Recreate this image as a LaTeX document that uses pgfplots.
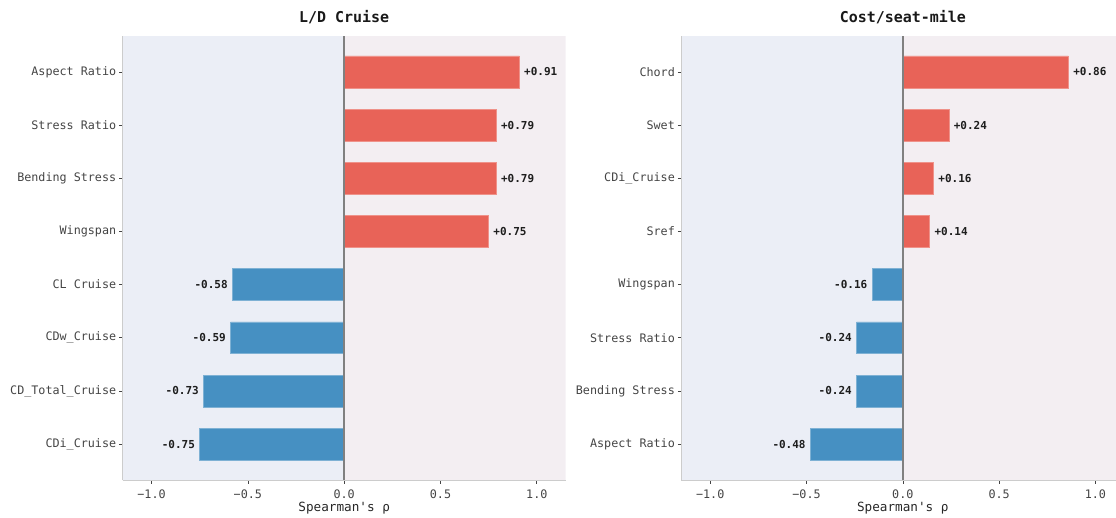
\documentclass[border=0pt]{standalone}
\usepackage{fontspec}
\setmainfont{DejaVu Sans Mono}
\usepackage{pgfplots}
\pgfplotsset{compat=1.18}
\definecolor{posred}{RGB}{232,99,88}
\definecolor{negblue}{RGB}{70,144,194}
\definecolor{bgneg}{RGB}{235,238,246}
\definecolor{bgpos}{RGB}{243,238,242}
\definecolor{spine}{RGB}{204,204,204}
\definecolor{ticklab}{RGB}{68,68,68}
\definecolor{zeroline}{RGB}{128,128,128}
\definecolor{valtext}{RGB}{30,30,30}

\pgfplotsset{
 corrstyle/.style={
  scale only axis, width=332.25pt, height=333.45pt,
  anchor=south west,
  xmin=-1.15, xmax=1.15, ymin=-0.68, ymax=7.68,
  axis x line*=bottom, axis y line*=left,
  axis line style={spine, line width=0.7pt, -},
  axis on top,
  xtick={-1,-0.5,0,0.5,1},
  xticklabels={−1.0,−0.5,0.0,0.5,1.0},
  ytick={0,...,7},
  tick align=outside, major tick length=2.6pt,
  tick style={ticklab, line width=0.5pt},
  ticklabel style={font=\fontsize{8.8}{10}\selectfont, text=ticklab},
  xticklabel style={anchor=center, yshift=-7.5pt},
  yticklabel style={anchor=east, xshift=1.25pt},
  xlabel={Spearman\textquotesingle s ρ},
  xlabel style={font=\fontsize{9.5}{11}\selectfont, text=black!85, at={(axis description cs:0.5,0)}, anchor=center, yshift=-20.5pt},
  title style={font=\fontsize{11.2}{13}\selectfont\bfseries, text=black!90, at={(axis description cs:0.5,1)}, anchor=center, yshift=7.75pt},
  xbar, bar width=0.6, bar shift=0pt,
  nodes near coords, point meta=explicit symbolic,
  every node near coord/.append style={font=\fontsize{8.25}{10}\selectfont\bfseries, text=valtext},
 },
 posbar/.style={fill=posred, draw=posred!70!white, line width=0.5pt, every node near coord/.append style={anchor=west}},
 negbar/.style={fill=negblue, draw=negblue!70!white, line width=0.5pt, every node near coord/.append style={anchor=east}},
}

\begin{document}
\begin{tikzpicture}
\useasboundingbox (0,0) rectangle (837pt,387.75pt);

\begin{axis}[corrstyle, at={(92pt,27.5pt)},
  title={L/D Cruise},
  yticklabels={CDi\_Cruise, CD\_Total\_Cruise, CDw\_Cruise, CL Cruise, Wingspan, Bending Stress, Stress Ratio, Aspect Ratio},
]
\fill[bgneg] (axis cs:-1.15,-0.68) rectangle (axis cs:0,7.68);
\fill[bgpos] (axis cs:0,-0.68) rectangle (axis cs:1.15,7.68);
\addplot[posbar] coordinates {(0.75,4) [+0.75] (0.79,5) [+0.79] (0.79,6) [+0.79] (0.91,7) [+0.91]};
\addplot[negbar] coordinates {(-0.75,0) [-0.75] (-0.73,1) [-0.73] (-0.59,2) [-0.59] (-0.58,3) [-0.58]};
\draw[zeroline, line width=1.1pt] (axis cs:0,-0.68) -- (axis cs:0,7.68);
\end{axis}

\begin{axis}[corrstyle, at={(511pt,27.5pt)},
  title={Cost/seat-mile},
  yticklabels={Aspect Ratio, Bending Stress, Stress Ratio, Wingspan, Sref, CDi\_Cruise, Swet, Chord},
]
\fill[bgneg] (axis cs:-1.15,-0.68) rectangle (axis cs:0,7.68);
\fill[bgpos] (axis cs:0,-0.68) rectangle (axis cs:1.15,7.68);
\addplot[posbar] coordinates {(0.14,4) [+0.14] (0.16,5) [+0.16] (0.24,6) [+0.24] (0.86,7) [+0.86]};
\addplot[negbar] coordinates {(-0.48,0) [-0.48] (-0.24,1) [-0.24] (-0.24,2) [-0.24] (-0.16,3) [-0.16]};
\draw[zeroline, line width=1.1pt] (axis cs:0,-0.68) -- (axis cs:0,7.68);
\end{axis}
\end{tikzpicture}
\end{document}
